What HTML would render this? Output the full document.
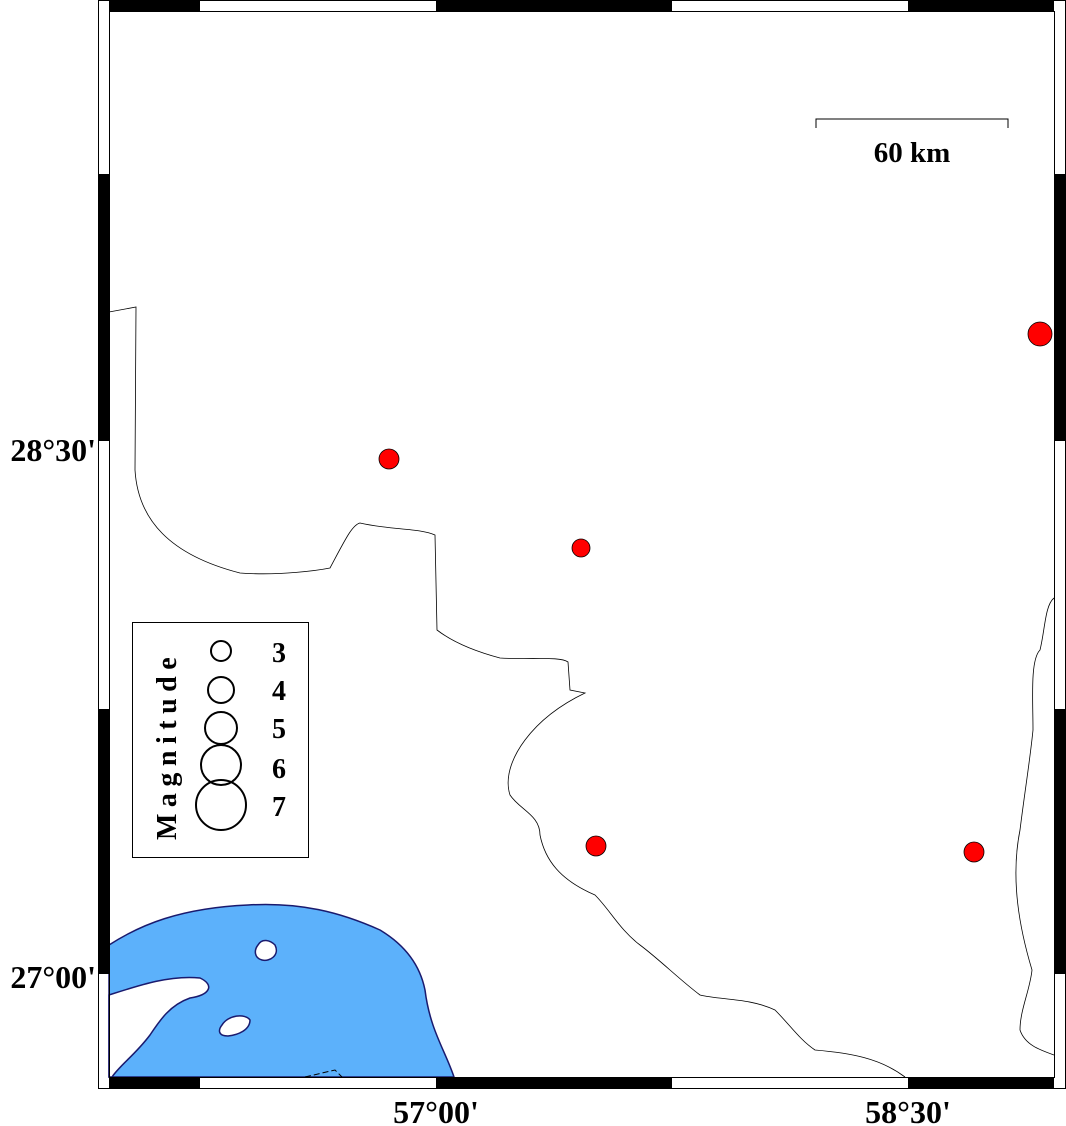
<!DOCTYPE html>
<html><head><style>body{margin:0;background:#fff}svg{display:block}</style></head>
<body>
<svg width="1066" height="1126" viewBox="0 0 1066 1126" xmlns="http://www.w3.org/2000/svg" font-family="Liberation Serif, serif" font-weight="bold">
<path d="M109 945 C140 925 180 908 248 905 C300 902 340 912 380 930 C405 945 420 965 425 990 C430 1030 445 1050 454 1077 L109 1077 Z" fill="#5cb1fb" stroke="#1a1a6e" stroke-width="1.5"/>
<path d="M109 995 C140 985 170 975 200 978 C215 985 210 995 190 998 C170 1005 160 1020 150 1035 C135 1055 120 1065 112 1077 L109 1077 Z" fill="#fff" stroke="#1a1a6e" stroke-width="1.5"/>
<path d="M258 945 C262 938 270 940 275 945 C280 955 270 962 262 960 C254 958 254 950 258 945 Z" fill="#fff" stroke="#1a1a6e" stroke-width="1.5"/>
<path d="M222 1025 C228 1015 245 1013 250 1020 C250 1030 238 1035 228 1036 C218 1036 218 1030 222 1025 Z" fill="#fff" stroke="#1a1a6e" stroke-width="1.5"/>
<path d="M305 1077 L335 1070 L342 1077" fill="none" stroke="#000" stroke-dasharray="6,3"/>
<path d="M109 312 L136 307 L135 470 C138 520 170 555 240 573 C280 576 320 570 330 568 C345 540 352 525 360 523 C390 530 420 528 435 535 L437 630 C450 640 470 650 500 658 C530 660 560 656 568 662 L570 690 L585 693 C560 705 540 720 525 740 C510 760 505 780 510 795 C520 810 540 815 540 835 C545 860 560 880 595 895 C610 910 620 930 640 945 C660 960 680 980 700 995 C720 1000 750 998 775 1010 C790 1025 800 1040 815 1050 C850 1053 880 1058 905 1077" fill="none" stroke="#000" stroke-width="0.8"/>
<path d="M1054 598 C1045 605 1045 630 1040 650 C1030 660 1033 700 1033 730 C1030 760 1025 790 1020 830 C1010 880 1020 930 1032 970 C1030 990 1020 1010 1020 1030 C1025 1045 1040 1050 1054 1055" fill="none" stroke="#000" stroke-width="0.8"/>
<rect x="98.5" y="0.5" width="967" height="1088" fill="none" stroke="#000"/>
<rect x="109.5" y="11.5" width="945" height="1066" fill="none" stroke="#000"/>
<g fill="#000">
<rect x="109" y="0" width="91" height="11"/><rect x="436" y="0" width="236" height="11"/><rect x="908" y="0" width="146" height="11"/>
<rect x="109" y="1077" width="91" height="11"/><rect x="436" y="1077" width="236" height="11"/><rect x="908" y="1077" width="146" height="11"/>
<rect x="98" y="174" width="11" height="267"/><rect x="98" y="709" width="11" height="265"/>
<rect x="1054" y="174" width="11" height="267"/><rect x="1054" y="709" width="11" height="265"/>
</g>
<path d="M816 128 V119 H1008 V128" fill="none" stroke="#000"/>
<text x="912" y="162" font-size="29" text-anchor="middle">60 km</text>
<g fill="#f00" stroke="#000" stroke-width="0.8">
<circle cx="389" cy="459" r="10"/><circle cx="581" cy="548" r="9"/><circle cx="596" cy="846" r="10"/><circle cx="974" cy="852" r="10"/><circle cx="1040" cy="334" r="12"/>
</g>
<rect x="132.5" y="622.5" width="176" height="235" fill="#fff" stroke="#000"/>
<g fill="none" stroke="#000" stroke-width="2">
<circle cx="221" cy="651" r="10"/><circle cx="221" cy="690" r="13"/><circle cx="221" cy="728" r="16"/><circle cx="221" cy="765" r="20"/><circle cx="221" cy="805" r="25"/>
</g>
<g font-size="28"><text x="272" y="662">3</text><text x="272" y="700">4</text><text x="272" y="738">5</text><text x="272" y="778">6</text><text x="272" y="816">7</text></g>
<text transform="translate(176,840) rotate(-90)" font-size="28" letter-spacing="6.5">Magnitude</text>
<g font-size="32">
<text x="96" y="461" text-anchor="end">28°30'</text>
<text x="96" y="988" text-anchor="end">27°00'</text>
<text x="436" y="1123" text-anchor="middle">57°00'</text>
<text x="908" y="1123" text-anchor="middle">58°30'</text>
</g>
</svg>
</body></html>
